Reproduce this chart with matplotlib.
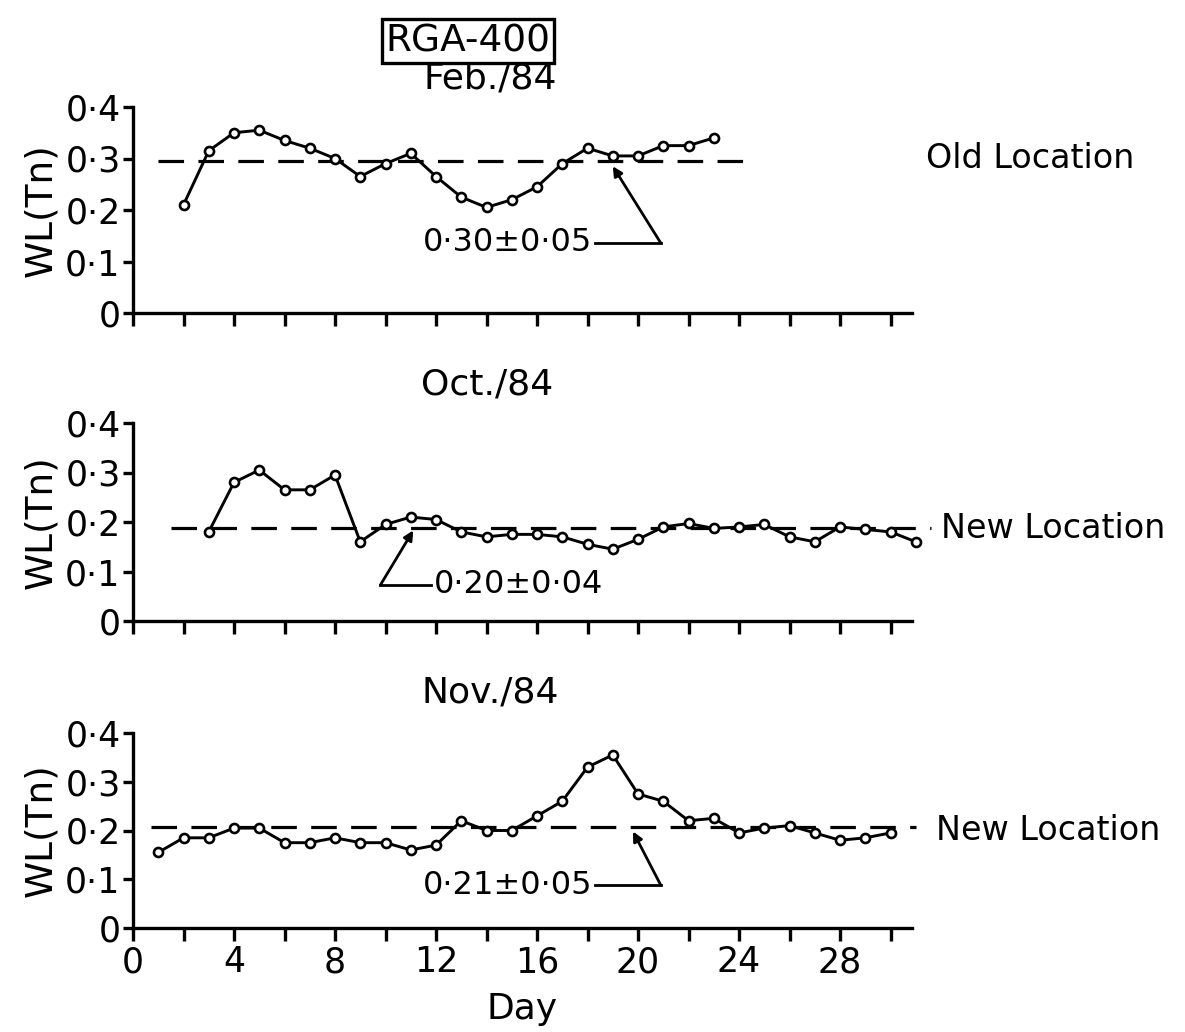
import matplotlib
matplotlib.use("Agg")
import matplotlib.pyplot as plt

# ---- data ----
feb_days = list(range(2, 24))
feb_wl = [0.21, 0.315, 0.35, 0.355, 0.335, 0.32, 0.30, 0.265, 0.29, 0.31, 0.265,
          0.225, 0.205, 0.22, 0.245, 0.29, 0.32, 0.305, 0.305, 0.325, 0.325, 0.34]
feb_mean = 0.295

oct_days = list(range(3, 32))
oct_wl = [0.18, 0.28, 0.305, 0.265, 0.265, 0.295, 0.16, 0.195, 0.21, 0.205, 0.18,
          0.17, 0.175, 0.175, 0.17, 0.155, 0.145, 0.165, 0.19, 0.197, 0.187, 0.19,
          0.195, 0.17, 0.16, 0.19, 0.185, 0.18, 0.16]
oct_mean = 0.188

nov_days = list(range(1, 31))
nov_wl = [0.155, 0.185, 0.185, 0.205, 0.205, 0.175, 0.175, 0.185, 0.175, 0.175,
          0.16, 0.17, 0.22, 0.20, 0.20, 0.23, 0.26, 0.33, 0.355, 0.275, 0.26,
          0.22, 0.225, 0.195, 0.205, 0.21, 0.195, 0.18, 0.185, 0.195]
nov_mean = 0.208

yticks = [0, 0.1, 0.2, 0.3, 0.4]
ytick_labels = ["0", "0·1", "0·2", "0·3", "0·4"]
xticks_major = [0, 4, 8, 12, 16, 20, 24, 28]
xtick_labels = ["0", "4", "8", "12", "16", "20", "24", "28"]
xticks_minor = [2, 6, 10, 14, 18, 22, 26, 30]

plt.rcParams['font.family'] = ['DejaVu Sans']

W, H = 1185, 1032
fig = plt.figure(figsize=(W / 100, H / 100), dpi=100)

def fx(px):
    return px / W

def fy(py):
    return 1 - py / H

panels = [
    dict(days=feb_days, wl=feb_wl, mean=feb_mean, mean_x=(1.0, 24.3),
         y0=313, y4=107, title="Feb./84", title_xy=(490, 78),
         side="Old Location", side_xy=(926, 158),
         ann="0·30±0·05", text_xy=(18.2, 0.136), corner=(20.9, 0.136),
         tip=(19.0, 0.285), text_ha="right"),
    dict(days=oct_days, wl=oct_wl, mean=oct_mean, mean_x=(1.5, 31.6),
         y0=621, y4=423, title="Oct./84", title_xy=(487, 385),
         side="New Location", side_xy=(941, 528),
         ann="0·20±0·04", text_xy=(11.9, 0.073), corner=(9.8, 0.073),
         tip=(11.1, 0.183), text_ha="left"),
    dict(days=nov_days, wl=nov_wl, mean=nov_mean, mean_x=(0.7, 31.0),
         y0=928, y4=733, title="Nov./84", title_xy=(490, 692),
         side="New Location", side_xy=(936, 830),
         ann="0·21±0·05", text_xy=(18.2, 0.088), corner=(20.9, 0.088),
         tip=(19.8, 0.198), text_ha="right"),
]

x_left, x_right = 133, 912
xmax = 30.85

for i, p in enumerate(panels):
    ax = fig.add_axes([fx(x_left), fy(p["y0"]), fx(x_right - x_left),
                       (p["y0"] - p["y4"]) / H])
    ax.set_xlim(0, xmax)
    ax.set_ylim(0, 0.4)
    for s in ["top", "right"]:
        ax.spines[s].set_visible(False)
    for s in ["left", "bottom"]:
        ax.spines[s].set_linewidth(2.4)
    ax.set_yticks(yticks)
    ax.set_yticklabels(ytick_labels, fontsize=25)
    ax.set_xticks(xticks_major)
    ax.set_xticks(xticks_minor, minor=True)
    ax.tick_params(axis="y", direction="out", length=7, width=2.4, pad=2)
    ax.tick_params(axis="x", which="both", direction="out", length=9, width=2.4)
    if i == 2:
        ax.set_xticklabels(xtick_labels, fontsize=25)
        ax.set_xlabel("Day", fontsize=26, labelpad=9)
    else:
        ax.set_xticklabels([])
    ax.set_ylabel("WL(Tn)", fontsize=27, labelpad=4)

    ax.plot(p["mean_x"], [p["mean"], p["mean"]], color="black", lw=2.3,
            dashes=(8, 4.5), clip_on=False, zorder=2)
    ax.plot(p["days"], p["wl"], color="black", lw=2.1, marker="o",
            markersize=6.5, markerfacecolor="white", markeredgecolor="black",
            markeredgewidth=1.9, clip_on=False, zorder=3)

    ax.text(p["text_xy"][0], p["text_xy"][1], p["ann"], fontsize=23,
            ha=p["text_ha"], va="center")
    ax.plot([p["text_xy"][0] + (0.1 if p["text_ha"] == "right" else -0.1),
             p["corner"][0]], [p["corner"][1], p["corner"][1]],
            color="black", lw=2.0)
    ax.annotate("", xy=p["tip"], xytext=p["corner"],
                arrowprops=dict(arrowstyle="-|>", color="black", lw=2.0,
                                mutation_scale=14, shrinkA=0, shrinkB=0))

    fig.text(fx(p["title_xy"][0]), fy(p["title_xy"][1]), p["title"],
             fontsize=26, ha="center", va="center")
    fig.text(fx(p["side_xy"][0]), fy(p["side_xy"][1]), p["side"],
             fontsize=24, ha="left", va="center")

fig.text(fx(468), fy(41), "RGA-400", fontsize=27, ha="center", va="center",
         bbox=dict(boxstyle="square,pad=0.1", facecolor="white",
                   edgecolor="black", linewidth=2.4))

fig.savefig("out.png", dpi=100, facecolor="white")
